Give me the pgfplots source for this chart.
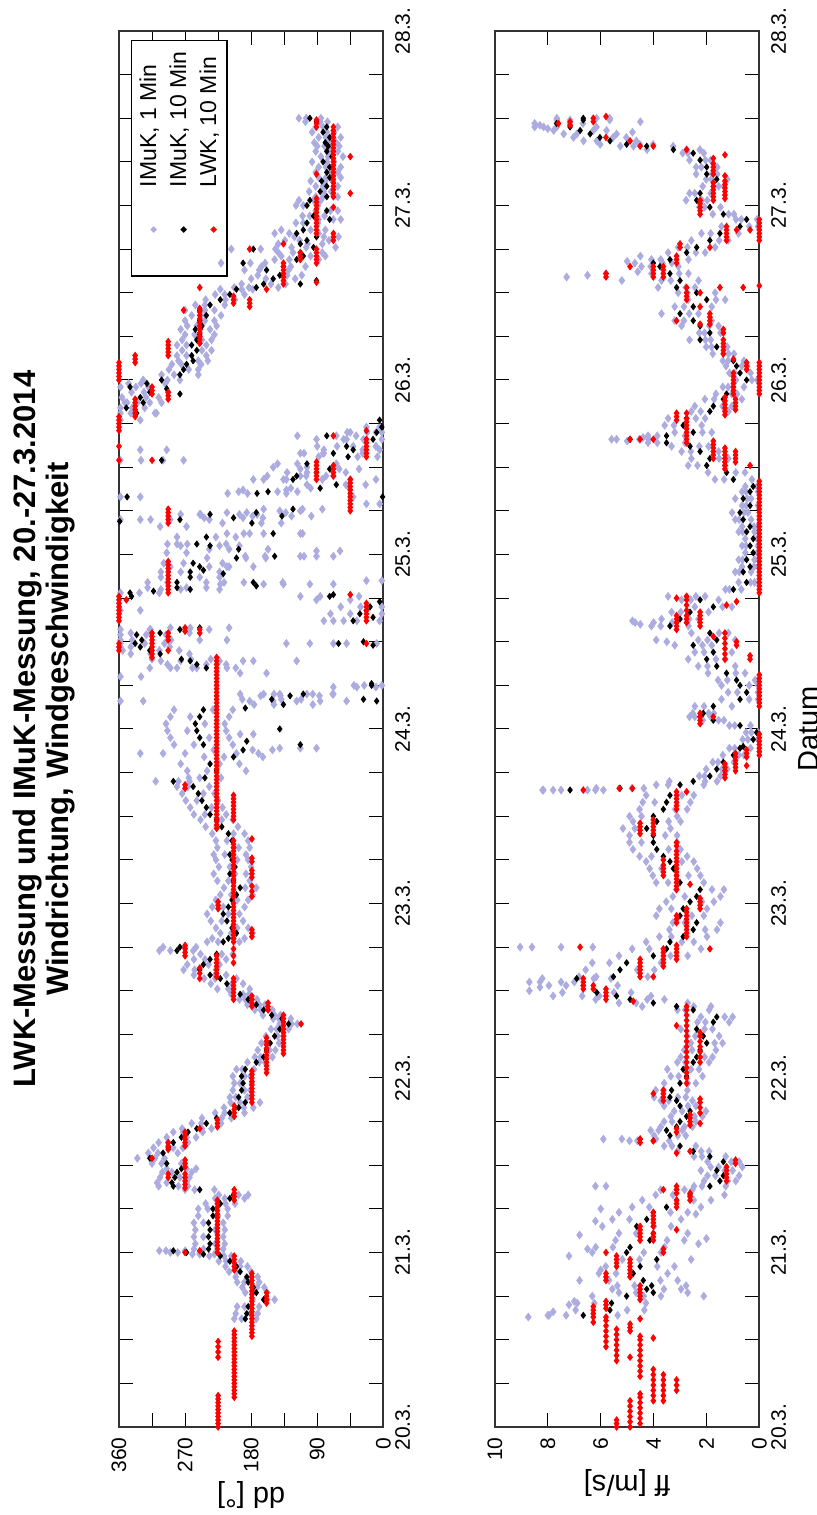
\documentclass[border=0pt]{standalone}
\usepackage{fontspec}
\setmainfont{Liberation Sans}
\newfontfamily\dejavu{DejaVu Sans}
\usepackage{pgfplots}
\usepackage{pgfplotstable}
\pgfplotsset{compat=1.18}
\definecolor{lav}{RGB}{172,172,224}

\pgfplotstableread[row sep=\\]{t v\\
20.62 188\\ 20.65 186\\ 20.69 184\\ 20.73 163\\ 20.77 173\\ 20.80 177\\ 20.83 184\\ 20.86 186\\ 20.89 195\\ 20.92 200\\ 20.95 209\\ 20.98 222\\ 20.99 245\\ 21.00 268\\ 21.01 286\\ 21.02 238\\ 21.05 236\\ 21.09 238\\ 21.13 236\\ 21.17 238\\ 21.21 232\\ 21.25 232\\ 21.28 222\\ 21.31 209\\ 21.33 204\\ 21.36 250\\ 21.38 286\\ 21.40 288\\ 21.43 284\\ 21.46 281\\ 21.48 275\\ 21.51 295\\ 21.54 318\\ 21.57 300\\ 21.60 293\\ 21.63 286\\ 21.66 275\\ 21.69 266\\ 21.71 254\\ 21.74 241\\ 21.77 227\\ 21.80 209\\ 21.83 197\\ 21.86 188\\
21.89 197\\ 21.93 193\\ 21.97 191\\ 22.01 193\\ 22.05 188\\ 22.09 173\\ 22.12 163\\ 22.16 159\\ 22.20 154\\ 22.24 148\\ 22.28 141\\ 22.31 129\\ 22.34 138\\ 22.36 152\\ 22.39 163\\ 22.42 173\\ 22.45 184\\ 22.48 195\\ 22.51 204\\ 22.54 213\\ 22.57 222\\ 22.59 236\\ 22.62 250\\ 22.65 245\\ 22.68 236\\ 22.71 227\\ 22.73 281\\ 22.75 277\\ 22.78 218\\ 22.80 211\\ 22.83 200\\ 22.86 206\\ 22.90 213\\ 22.94 218\\ 22.98 211\\ 23.02 206\\ 23.05 200\\ 23.09 195\\ 23.13 204\\ 23.17 209\\ 23.21 202\\ 23.25 206\\ 23.28 209\\ 23.32 204\\ 23.36 206\\ 23.40 211\\ 23.44 220\\ 23.48 227\\ 23.51 236\\ 23.55 241\\ 23.59 247\\ 23.63 252\\ 23.67 259\\ 23.70 286\\ 23.72 243\\ 23.76 227\\ 23.80 236\\ 23.84 204\\ 23.88 191\\ 23.91 245\\ 23.95 250\\ 23.99 254\\ 24.03 256\\ 24.07 250\\ 24.11 245\\ 24.00 141\\ 23.91 113\\ 23.93 186\\ 24.12 188\\ 24.14 136\\ 24.17 152\\ 24.19 127\\ 24.20 109\\ 24.25 16\\ 24.26 16\\ 24.17 27\\ 24.16 9\\
24.35 241\\ 24.37 254\\ 24.39 263\\ 24.40 275\\ 24.43 304\\ 24.45 318\\ 24.47 331\\ 24.49 338\\ 24.51 329\\ 24.54 336\\ 24.55 304\\ 24.57 277\\ 24.58 250\\ 24.49 61\\ 24.50 27\\ 24.48 14\\ 24.62 41\\ 24.64 14\\ 24.66 32\\ 24.68 23\\ 24.70 18\\ 24.73 5\\ 24.76 73\\ 24.77 68\\ 24.76 343\\ 24.78 345\\ 24.79 313\\ 24.80 263\\ 24.81 281\\ 24.84 281\\ 24.87 263\\ 24.90 263\\ 24.93 250\\ 24.95 259\\ 24.91 245\\ 24.89 218\\ 24.84 177\\ 24.82 173\\ 24.99 148\\ 24.98 200\\ 25.03 197\\ 25.05 236\\ 25.06 254\\ 25.10 241\\ 25.12 150\\ 25.18 179\\ 25.20 277\\ 25.19 359\\ 25.21 204\\ 25.23 236\\ 25.22 138\\ 25.24 173\\ 25.26 123\\ 25.33 349\\ 25.35 172\\ 25.36 157\\ 25.33 1\\ 25.38 86\\ 25.40 64\\ 25.43 123\\ 25.45 118\\ 25.47 91\\ 25.49 73\\ 25.52 104\\ 25.54 302\\ 25.56 48\\ 25.58 68\\ 25.60 41\\ 25.62 50\\ 25.66 14\\ 25.68 77\\ 25.70 9\\ 25.73 2\\ 25.77 5\\
25.81 336\\ 25.84 350\\ 25.87 327\\ 25.90 331\\ 25.93 318\\ 25.96 345\\ 25.98 322\\ 25.95 295\\ 25.92 277\\ 26.00 302\\ 26.03 277\\ 26.06 272\\ 26.09 268\\ 26.11 259\\ 26.14 261\\ 26.17 254\\ 26.20 261\\ 26.23 254\\ 26.26 250\\ 26.29 256\\ 26.31 247\\ 26.34 250\\ 26.37 241\\ 26.40 250\\ 26.43 236\\ 26.46 222\\ 26.49 209\\ 26.52 200\\ 26.53 173\\ 26.55 163\\ 26.58 150\\ 26.60 141\\ 26.63 159\\ 26.65 136\\ 26.67 191\\ 26.69 118\\ 26.71 109\\ 26.73 113\\ 26.75 177\\ 26.76 95\\ 26.78 113\\ 26.80 104\\ 26.82 91\\ 26.84 118\\ 26.86 109\\ 26.90 104\\ 26.92 73\\ 26.94 95\\ 26.97 77\\ 27.00 104\\ 27.03 100\\ 27.05 77\\ 27.08 86\\ 27.11 77\\ 27.14 84\\ 27.16 73\\ 27.19 77\\ 27.22 73\\ 27.25 82\\ 27.28 70\\ 27.31 77\\ 27.34 75\\ 27.36 79\\ 27.39 73\\ 27.42 82\\ 27.45 77\\ 27.48 91\\ 27.50 100\\ 26.55 113\\ 26.57 91\\
}\ddblack

\pgfplotstableread[row sep=\\]{t a b c\\
20.62 203 173 193\\ 20.65 201 171 181\\ 20.69 199 169 189\\ 20.73 178 148 158\\ 20.77 188 158 178\\ 20.80 192 162 172\\ 20.83 199 169 189\\ 20.86 201 171 181\\ 20.89 210 180 200\\ 20.92 215 185 195\\ 20.95 224 194 214\\ 20.98 237 207 217\\ 20.99 260 230 250\\ 21.00 290 250 280\\ 21.01 305 270 296\\
21.02 258 218 245\\ 21.05 256 216 229\\ 21.09 258 218 245\\ 21.13 256 216 229\\ 21.17 258 218 245\\ 21.21 252 212 225\\ 21.25 252 212 239\\ 21.28 242 202 215\\ 21.31 229 189 216\\ 21.33 224 184 197\\ 21.36 270 230 257\\ 21.38 306 266 279\\ 21.40 308 268 295\\ 21.43 304 264 277\\ 21.46 301 261 288\\ 21.48 295 255 268\\ 21.51 315 275 302\\ 21.54 335 298 311\\ 21.57 320 280 307\\ 21.60 313 273 286\\ 21.63 306 266 293\\ 21.66 295 255 268\\ 21.69 286 246 273\\ 21.71 274 234 247\\ 21.74 261 221 248\\ 21.77 247 207 220\\ 21.80 229 189 216\\ 21.83 217 177 190\\ 21.86 208 168 195\\
21.89 209 185 201\\ 21.93 205 181 189\\ 21.97 203 179 195\\ 22.01 205 181 189\\ 22.05 200 176 192\\ 22.09 185 161 169\\ 22.12 175 151 167\\ 22.16 171 147 155\\ 22.20 166 142 158\\ 22.24 160 136 144\\ 22.28 153 129 145\\ 22.31 141 117 125\\ 22.34 150 126 142\\ 22.36 164 140 148\\ 22.39 175 151 167\\ 22.42 185 161 169\\ 22.45 196 172 188\\ 22.48 207 183 191\\
22.51 226 182 211\\ 22.54 235 191 206\\ 22.57 244 200 229\\ 22.59 258 214 229\\ 22.62 272 228 257\\ 22.65 267 223 238\\ 22.68 258 214 243\\ 22.71 249 205 220\\ 22.73 305 259 290\\ 22.75 300 255 270\\ 22.78 240 196 225\\ 22.80 233 189 204\\ 22.83 222 178 207\\ 22.86 228 184 199\\ 22.90 235 191 220\\ 22.94 240 196 211\\ 22.98 233 189 218\\ 23.02 228 184 199\\ 23.05 222 178 207\\ 23.09 217 173 188\\ 23.13 226 182 211\\ 23.17 231 187 202\\ 23.21 224 180 209\\ 23.25 228 184 199\\ 23.28 231 187 216\\ 23.32 226 182 197\\ 23.36 228 184 213\\ 23.40 233 189 204\\ 23.44 242 198 227\\ 23.48 249 205 220\\ 23.51 258 214 243\\ 23.55 263 219 234\\ 23.59 269 225 254\\ 23.63 274 230 245\\ 23.67 281 237 266\\ 23.70 310 264 279\\ 23.72 265 221 250\\
23.76 267 187 240\\ 23.80 276 196 223\\ 23.84 244 164 217\\ 23.88 231 151 178\\ 23.91 285 205 258\\ 23.95 290 210 237\\ 23.99 294 214 267\\ 24.03 296 216 243\\ 24.07 290 210 263\\ 24.11 285 205 232\\ 24.14 176 96 149\\ 24.17 192 112 139\\ 24.19 167 87 140\\ 24.20 149 69 96\\ 24.25 40 2 26\\ 24.35 281 201 254\\ 24.37 294 214 241\\ 24.39 303 223 276\\ 24.40 315 235 262\\ 24.43 344 264 317\\ 24.45 355 278 305\\ 24.47 358 291 344\\ 24.49 358 298 325\\ 24.51 358 289 342\\ 24.54 358 296 323\\ 24.55 344 264 317\\ 24.57 317 237 264\\ 24.58 290 210 263\\ 24.62 81 5 54\\ 24.66 72 2 45\\ 24.70 58 2 31\\ 24.76 113 33 86\\ 24.78 358 305 332\\ 24.80 303 223 276\\ 24.81 321 241 268\\ 24.84 321 241 294\\ 24.87 303 223 250\\ 24.90 303 223 276\\ 24.93 290 210 237\\ 24.95 299 219 272\\ 24.84 217 137 190\\ 24.99 188 108 161\\ 24.98 240 160 187\\ 25.03 237 157 210\\ 25.05 276 196 223\\ 25.06 294 214 267\\ 25.10 281 201 228\\ 25.12 190 110 163\\ 25.18 219 139 166\\ 25.20 317 237 290\\ 25.21 244 164 191\\ 25.23 276 196 249\\ 25.22 178 98 125\\ 25.24 213 133 186\\ 25.26 163 83 110\\ 25.35 212 132 185\\ 25.36 197 117 144\\ 25.38 126 46 99\\ 25.40 104 24 51\\ 25.43 163 83 136\\ 25.45 158 78 105\\ 25.47 131 51 104\\ 25.49 113 33 60\\ 25.52 144 64 117\\ 25.56 88 8 35\\ 25.58 108 28 81\\ 25.60 81 5 28\\ 25.62 90 10 63\\ 25.66 54 2 27\\ 25.68 117 37 64\\ 25.70 49 2 22\\
25.81 358 311 344\\ 25.84 358 325 342\\ 25.87 352 302 335\\ 25.90 356 306 323\\ 25.93 343 293 326\\ 25.96 358 320 337\\ 25.98 347 297 330\\ 26.00 327 277 294\\ 26.03 302 252 285\\
26.06 292 252 265\\ 26.09 288 248 275\\ 26.11 279 239 252\\ 26.14 281 241 268\\ 26.17 274 234 247\\ 26.20 281 241 268\\ 26.23 274 234 247\\ 26.26 270 230 257\\ 26.29 276 236 249\\ 26.31 267 227 254\\ 26.34 270 230 243\\ 26.37 261 221 248\\ 26.40 270 230 243\\ 26.43 256 216 243\\ 26.46 242 202 215\\ 26.49 229 189 216\\ 26.52 222 178 193\\
26.53 203 143 183\\ 26.55 193 133 153\\ 26.58 180 120 160\\ 26.60 171 111 131\\ 26.63 189 129 169\\ 26.65 166 106 126\\ 26.67 221 161 181\\ 26.69 148 88 128\\ 26.71 139 79 99\\ 26.73 143 83 123\\ 26.75 207 147 167\\ 26.76 125 65 105\\ 26.78 143 83 103\\ 26.80 134 74 114\\ 26.82 121 61 81\\ 26.84 148 88 128\\ 26.86 139 79 99\\
26.90 119 89 109\\ 26.92 88 58 68\\ 26.94 110 80 100\\ 26.97 92 62 72\\ 27.00 119 89 109\\ 27.03 115 85 95\\ 27.05 92 62 82\\ 27.08 101 71 81\\ 27.11 92 62 82\\ 27.14 99 69 79\\ 27.16 88 58 78\\ 27.19 92 62 72\\ 27.22 88 58 78\\ 27.25 97 67 77\\ 27.28 85 55 75\\ 27.31 92 62 72\\ 27.34 90 60 80\\ 27.36 94 64 74\\ 27.39 88 58 78\\ 27.42 97 67 77\\ 27.45 92 62 82\\ 27.48 106 76 86\\ 27.50 115 85 105\\
}\ddlight

\pgfplotstableread[row sep=\\]{t v\\
23.86 331\\ 23.86 300\\ 23.86 270\\ 23.86 200\\ 23.86 170\\ 23.89 141\\ 23.89 113\\ 23.89 91\\ 23.97 195\\ 23.97 177\\ 24.16 358\\ 24.16 327\\ 24.16 182\\ 24.16 150\\ 24.16 118\\ 24.16 86\\ 24.16 50\\ 24.20 195\\ 24.20 163\\ 24.20 141\\ 24.20 104\\ 24.20 68\\ 24.24 68\\ 24.24 36\\ 24.24 10\\ 24.30 358\\ 24.30 330\\ 24.32 195\\ 24.32 159\\ 24.35 318\\ 24.35 290\\ 24.35 260\\ 24.35 213\\ 24.39 191\\ 24.39 177\\ 24.39 118\\ 24.49 132\\ 24.49 100\\ 24.49 68\\ 24.49 50\\ 24.49 9\\ 24.51 250\\ 24.51 213\\ 24.57 358\\ 24.57 318\\ 24.62 68\\ 24.62 36\\ 24.68 358\\ 24.68 331\\ 24.74 91\\ 24.74 45\\ 24.83 222\\ 24.83 163\\ 24.83 136\\ 24.83 100\\ 24.83 68\\ 24.85 23\\ 24.85 2\\ 24.93 213\\ 24.93 177\\ 24.99 113\\ 24.99 91\\ 24.99 68\\ 25.01 295\\ 25.01 268\\ 25.02 91\\ 25.02 59\\ 25.06 281\\ 25.12 213\\ 25.12 182\\ 25.12 113\\ 25.16 304\\ 25.16 268\\ 25.20 358\\ 25.20 331\\ 25.23 250\\ 25.23 172\\ 25.25 141\\ 25.25 113\\ 25.29 23\\ 25.29 5\\ 25.33 358\\ 25.33 331\\ 25.33 41\\ 25.37 191\\ 25.37 132\\ 25.43 177\\ 25.43 132\\ 25.43 45\\ 25.43 10\\ 25.45 113\\ 25.45 68\\ 25.50 150\\ 25.50 104\\ 25.54 358\\ 25.54 330\\ 25.54 300\\ 25.54 272\\ 25.58 113\\ 25.58 82\\ 25.60 331\\ 25.60 295\\ 25.62 41\\ 25.62 10\\ 25.66 91\\ 25.66 50\\ 25.70 45\\ 25.70 10\\ 25.73 23\\ 25.73 5\\ 25.77 358\\ 25.77 331\\ 25.81 340\\ 25.81 309\\ 25.87 349\\ 25.87 318\\
}\ddlightx

\pgfplotstableread[row sep=\\]{t v\\
20.00 225\\ 20.02 225\\ 20.04 225\\ 20.06 225\\ 20.08 225\\ 20.10 225\\ 20.12 225\\ 20.14 225\\ 20.16 225\\ 20.18 225\\
20.17 203\\ 20.19 203\\ 20.21 203\\ 20.23 203\\ 20.25 203\\ 20.27 203\\ 20.29 203\\ 20.31 203\\ 20.33 203\\ 20.35 203\\ 20.37 203\\ 20.39 203\\ 20.41 203\\ 20.43 203\\ 20.45 203\\ 20.47 203\\ 20.49 203\\ 20.51 203\\ 20.53 203\\ 20.55 203\\
20.40 225\\ 20.43 225\\ 20.46 225\\ 20.49 225\\
20.52 179\\ 20.54 179\\ 20.56 179\\ 20.58 179\\ 20.60 179\\ 20.62 179\\ 20.64 179\\ 20.66 179\\ 20.68 179\\ 20.70 179\\ 20.72 179\\ 20.74 179\\ 20.76 179\\ 20.78 179\\ 20.80 179\\ 20.82 179\\ 20.84 179\\ 20.86 179\\ 20.88 179\\
20.71 159\\ 20.73 159\\ 20.75 159\\ 20.77 159\\
20.90 203\\ 20.92 203\\ 20.94 203\\ 20.96 203\\ 20.98 203\\
21.00 226\\ 21.02 226\\ 21.04 226\\ 21.06 226\\ 21.08 226\\ 21.10 226\\ 21.12 226\\ 21.14 226\\ 21.16 226\\ 21.18 226\\ 21.20 226\\ 21.22 226\\ 21.24 226\\ 21.26 226\\ 21.28 226\\ 21.30 226\\
21.01 250\\ 21.00 270\\
21.30 203\\ 21.32 203\\ 21.34 203\\ 21.36 203\\
21.37 270\\ 21.39 270\\ 21.41 270\\ 21.43 270\\ 21.45 270\\ 21.43 293\\ 21.45 293\\
21.49 270\\ 21.51 270\\ 21.53 270\\ 21.54 315\\ 21.59 293\\ 21.61 293\\ 21.63 293\\
21.61 270\\ 21.63 270\\ 21.65 270\\ 21.67 270\\ 21.69 270\\ 21.71 250\\
21.72 226\\ 21.74 226\\ 21.76 226\\ 21.78 203\\ 21.80 203\\ 21.82 203\\ 21.84 203\\
21.86 179\\ 21.88 179\\ 21.90 179\\ 21.92 179\\ 21.94 179\\ 21.96 179\\ 21.98 179\\ 22.00 179\\ 22.02 179\\ 22.04 179\\
22.03 159\\ 22.05 159\\ 22.07 159\\ 22.09 159\\ 22.11 159\\ 22.13 159\\ 22.15 159\\ 22.17 159\\ 22.19 159\\ 22.21 159\\ 22.23 159\\
22.14 136\\ 22.16 136\\ 22.18 136\\ 22.20 136\\ 22.22 136\\ 22.24 136\\ 22.26 136\\ 22.28 136\\ 22.30 136\\ 22.32 136\\ 22.34 136\\ 22.36 136\\
22.31 112\\ 22.39 157\\ 22.41 157\\ 22.43 157\\ 22.41 179\\ 22.43 179\\ 22.45 179\\ 22.47 179\\
22.45 204\\ 22.47 204\\ 22.49 204\\ 22.51 204\\ 22.53 204\\ 22.55 204\\ 22.57 204\\
22.58 227\\ 22.60 227\\ 22.62 227\\ 22.64 227\\ 22.66 227\\ 22.68 227\\ 22.70 227\\
22.57 250\\ 22.60 250\\ 22.63 250\\ 22.70 270\\ 22.72 270\\ 22.74 270\\ 22.76 270\\ 22.66 204\\ 22.70 204\\ 22.74 204\\
22.78 204\\ 22.80 204\\ 22.82 204\\ 22.84 204\\ 22.86 204\\ 22.88 204\\ 22.90 204\\ 22.92 204\\ 22.94 204\\ 22.96 204\\ 22.98 204\\ 23.00 204\\
22.81 179\\ 22.83 179\\ 22.85 179\\ 22.97 225\\ 22.99 225\\ 23.01 225\\
23.04 204\\ 23.06 204\\ 23.08 204\\ 23.10 204\\ 23.12 204\\ 23.14 204\\ 23.16 204\\ 23.18 204\\ 23.20 204\\ 23.22 204\\ 23.24 204\\ 23.26 204\\ 23.28 204\\ 23.30 204\\ 23.32 204\\ 23.34 204\\ 23.36 204\\
23.37 179\\ 23.24 179\\ 23.26 179\\ 23.15 179\\ 23.17 179\\ 23.19 179\\ 23.04 179\\ 23.07 179\\ 23.10 179\\
23.43 227\\ 23.45 227\\ 23.47 227\\ 23.49 227\\ 23.51 227\\ 23.53 227\\ 23.55 227\\ 23.57 227\\ 23.59 227\\ 23.61 227\\ 23.63 227\\ 23.65 227\\ 23.67 227\\ 23.69 227\\ 23.71 227\\ 23.73 227\\ 23.75 227\\ 23.77 227\\ 23.79 227\\ 23.81 227\\ 23.83 227\\ 23.85 227\\ 23.87 227\\ 23.89 227\\ 23.91 227\\ 23.93 227\\ 23.95 227\\ 23.97 227\\ 23.99 227\\ 24.01 227\\ 24.03 227\\ 24.05 227\\ 24.07 227\\ 24.09 227\\ 24.11 227\\ 24.13 227\\ 24.15 227\\ 24.17 227\\ 24.19 227\\ 24.21 227\\ 24.23 227\\ 24.25 227\\ 24.27 227\\ 24.29 227\\ 24.31 227\\ 24.33 227\\ 24.35 227\\ 24.37 227\\ 24.39 227\\ 24.41 227\\
23.66 270\\ 23.68 270\\ 23.48 204\\ 23.50 204\\ 23.52 204\\ 23.54 204\\ 23.56 204\\ 23.58 204\\ 23.60 204\\ 23.62 204\\
24.41 315\\ 24.43 315\\ 24.45 315\\ 24.47 315\\ 24.49 315\\ 24.51 315\\ 24.53 315\\ 24.55 315\\
24.45 293\\ 24.51 293\\ 24.53 293\\ 24.55 293\\ 24.56 270\\ 24.58 270\\ 24.55 250\\ 24.57 250\\
24.45 360\\ 24.47 360\\ 24.49 360\\ 24.62 360\\ 24.64 360\\ 24.66 360\\ 24.68 360\\ 24.70 360\\ 24.72 360\\ 24.74 360\\ 24.76 360\\ 24.74 350\\
24.62 23\\ 24.64 23\\ 24.66 23\\ 24.68 23\\ 24.70 23\\ 24.72 23\\ 24.77 45\\ 24.49 23\\
24.78 293\\ 24.80 293\\ 24.82 293\\ 24.84 293\\ 24.86 293\\ 24.88 293\\ 24.90 293\\ 24.92 293\\ 24.94 293\\ 24.96 293\\
25.18 293\\ 25.20 293\\ 25.22 293\\ 25.24 293\\ 25.26 293\\
25.43 91\\ 25.45 91\\ 25.47 91\\ 25.49 91\\ 25.51 91\\ 25.53 91\\ 25.45 68\\ 25.47 68\\ 25.49 68\\ 25.51 68\\
25.25 45\\ 25.27 45\\ 25.29 45\\ 25.31 45\\ 25.33 45\\ 25.35 45\\ 25.37 45\\ 25.39 45\\ 25.41 45\\ 25.43 45\\
25.56 23\\ 25.58 23\\ 25.60 23\\ 25.62 23\\ 25.64 23\\ 25.66 23\\ 25.71 23\\
25.71 360\\ 25.73 360\\ 25.75 360\\ 25.77 360\\ 25.79 360\\ 25.62 360\\ 25.54 360\\
25.79 338\\ 25.81 338\\ 25.83 338\\ 25.85 338\\ 25.87 338\\ 25.89 338\\ 25.54 315\\ 25.68 68\\
26.00 360\\ 26.02 360\\ 26.04 360\\ 26.06 360\\ 26.08 360\\ 26.10 360\\ 26.10 338\\ 26.12 338\\ 26.14 338\\
25.92 315\\ 25.94 315\\ 25.96 315\\ 25.89 293\\ 25.91 293\\ 25.93 293\\
26.14 293\\ 26.16 293\\ 26.18 293\\ 26.20 293\\ 26.22 293\\
26.21 250\\ 26.23 250\\ 26.25 250\\ 26.27 250\\ 26.29 250\\ 26.31 250\\ 26.33 250\\ 26.35 250\\ 26.37 250\\ 26.39 250\\ 26.41 250\\
26.40 272\\ 26.53 250\\ 26.44 204\\ 26.46 204\\ 26.48 204\\ 26.42 182\\ 26.44 182\\ 26.46 182\\ 26.52 159\\
26.55 136\\ 26.57 136\\ 26.59 136\\ 26.61 136\\ 26.63 136\\ 26.65 136\\ 26.67 136\\
26.75 182\\ 26.78 136\\ 26.69 113\\ 26.71 113\\ 26.73 113\\ 26.56 91\\
26.67 91\\ 26.69 91\\ 26.71 91\\ 26.73 91\\ 26.75 91\\
26.84 91\\ 26.86 91\\ 26.88 91\\ 26.90 91\\ 26.92 91\\ 26.94 91\\ 26.96 91\\ 26.98 91\\ 27.00 91\\ 27.02 91\\ 27.04 91\\
26.80 68\\ 26.82 68\\ 26.84 68\\ 26.99 68\\ 27.18 91\\
27.05 68\\ 27.07 68\\ 27.09 68\\ 27.11 68\\ 27.13 68\\ 27.15 68\\ 27.17 68\\ 27.19 68\\ 27.21 68\\ 27.23 68\\ 27.25 68\\ 27.27 68\\ 27.29 68\\ 27.31 68\\ 27.33 68\\ 27.35 68\\ 27.37 68\\ 27.39 68\\ 27.41 68\\ 27.43 68\\ 27.45 68\\
27.28 45\\ 27.07 45\\ 27.45 91\\ 27.47 91\\ 27.49 91\\
}\ddred

\pgfplotstableread[row sep=\\]{t v\\
20.64 6.66\\ 20.67 5.65\\ 20.71 5.59\\ 20.75 5.02\\ 20.77 4.01\\ 20.79 4.26\\ 20.81 4.07\\ 20.84 4.39\\ 20.88 4.77\\ 20.92 4.51\\ 20.96 3.88\\ 21.00 5.02\\ 21.03 4.89\\ 21.07 4.14\\ 21.11 4.01\\ 21.15 4.64\\ 21.19 4.26\\ 21.23 4.01\\ 21.26 3.51\\ 21.30 3.13\\ 21.33 2.62\\ 21.36 3.13\\ 21.38 1.87\\ 21.41 1.49\\ 21.44 1.36\\ 21.47 1.61\\ 21.49 1.24\\ 21.52 1.36\\ 21.55 1.87\\ 21.58 2.50\\ 21.61 3.00\\ 21.64 4.01\\ 21.65 4.51\\ 21.67 3.38\\ 21.70 3.51\\ 21.72 3.13\\ 21.75 3.00\\ 21.78 2.75\\ 21.81 2.62\\ 21.84 3.00\\ 21.87 3.13\\
21.89 3.38\\ 21.93 3.32\\ 21.97 3.00\\ 22.01 2.75\\ 22.05 2.88\\ 22.09 2.50\\ 22.12 2.37\\ 22.16 2.24\\ 22.20 1.99\\ 22.24 2.12\\ 22.28 2.37\\ 22.32 1.74\\ 22.35 1.61\\ 22.39 2.50\\ 22.41 3.13\\ 22.43 4.01\\ 22.45 4.89\\ 22.47 5.40\\ 22.49 6.15\\ 22.53 6.66\\ 22.57 6.91\\ 22.58 5.52\\ 22.62 5.27\\ 22.66 5.02\\ 22.70 4.01\\ 22.74 3.51\\ 22.78 3.38\\ 22.81 2.88\\ 22.85 2.50\\ 22.89 2.37\\ 22.93 3.00\\ 22.97 2.88\\ 23.01 2.62\\ 23.04 2.37\\ 23.08 2.24\\ 23.12 3.00\\ 23.16 3.13\\ 23.20 3.25\\ 23.24 3.38\\ 23.27 3.63\\ 23.31 3.88\\ 23.35 4.01\\ 23.39 4.01\\ 23.43 4.26\\ 23.47 3.88\\ 23.50 4.01\\ 23.54 3.63\\ 23.58 3.51\\ 23.62 3.38\\ 23.65 7.16\\ 23.66 5.27\\ 23.68 3.00\\ 23.70 2.50\\ 23.73 1.87\\ 23.77 1.61\\ 23.81 1.36\\ 23.85 0.98\\ 23.89 0.73\\
23.90 0.61\\ 23.94 0.23\\ 23.98 0.10\\ 24.02 0.73\\ 24.05 1.74\\ 24.07 2.24\\ 24.09 2.12\\ 24.13 1.74\\ 24.17 0.73\\ 24.21 0.48\\ 24.25 0.73\\ 24.28 0.86\\ 24.32 1.24\\ 24.36 1.61\\ 24.40 1.99\\ 24.44 1.74\\ 24.48 2.50\\ 24.51 1.61\\ 24.55 1.87\\ 24.59 3.38\\ 24.63 3.00\\ 24.67 2.62\\ 24.70 1.74\\ 24.74 2.24\\ 24.76 2.75\\ 24.80 0.98\\ 24.84 0.48\\ 24.90 0.61\\ 24.93 0.35\\ 24.97 0.48\\ 25.01 0.23\\ 25.05 0.35\\ 25.09 0.23\\ 25.13 0.48\\ 25.16 0.35\\ 25.20 0.61\\ 25.24 0.73\\ 25.28 0.35\\ 25.32 0.61\\ 25.36 0.35\\ 25.39 0.23\\ 25.43 0.98\\ 25.47 1.24\\ 25.51 1.99\\ 25.55 1.87\\ 25.59 2.24\\ 25.62 2.62\\ 25.64 3.51\\ 25.66 4.89\\ 25.68 3.51\\ 25.70 2.50\\ 25.74 2.88\\ 25.78 2.75\\ 25.82 1.87\\ 25.85 1.74\\
25.89 1.36\\ 25.92 1.24\\ 25.96 0.98\\ 26.00 0.48\\ 26.04 0.73\\ 26.08 0.86\\ 26.11 0.98\\ 26.15 1.36\\ 26.19 1.61\\ 26.23 2.24\\ 26.27 1.87\\ 26.31 2.24\\ 26.34 2.50\\ 26.38 3.00\\ 26.42 2.50\\ 26.46 1.99\\ 26.50 2.37\\ 26.53 3.13\\ 26.57 3.00\\ 26.61 3.38\\ 26.65 3.76\\ 26.67 4.01\\ 26.69 3.38\\ 26.73 2.75\\ 26.76 2.37\\ 26.80 1.87\\ 26.84 1.49\\ 26.88 0.73\\ 26.92 0.48\\ 26.95 1.36\\ 26.99 1.87\\ 27.03 2.37\\ 27.07 2.24\\ 27.11 1.74\\ 27.15 1.61\\ 27.18 1.99\\ 27.22 1.99\\ 27.26 2.24\\ 27.30 2.50\\ 27.32 3.25\\ 27.34 4.26\\ 27.35 5.02\\ 27.37 5.65\\ 27.39 6.03\\ 27.41 6.40\\ 27.43 6.78\\ 27.45 7.16\\ 27.47 7.67\\ 27.49 6.66\\ 27.50 6.66\\
}\ffblack

\pgfplotstableread[row sep=\\]{t a b c\\
20.64 7.96 5.36 7.31\\ 20.67 6.95 4.35 5.00\\ 20.71 6.89 4.29 6.24\\ 20.75 6.32 3.72 4.37\\ 20.77 5.31 2.71 4.66\\ 20.79 5.56 2.96 3.61\\ 20.81 5.37 2.77 4.72\\ 20.84 5.69 3.09 3.74\\ 20.88 6.07 3.47 5.42\\ 20.92 5.81 3.21 3.86\\ 20.96 5.18 2.58 4.53\\ 21.00 6.32 3.72 4.37\\ 21.03 6.19 3.59 5.54\\ 21.07 5.44 2.84 3.49\\ 21.11 5.31 2.71 4.66\\ 21.15 5.94 3.34 3.99\\ 21.19 5.56 2.96 4.91\\ 21.23 5.31 2.71 3.36\\ 21.26 4.81 2.21 4.16\\ 21.30 4.43 1.83 2.48\\ 21.33 3.92 1.32 3.27\\
21.36 3.73 2.53 2.83\\ 21.38 2.47 1.27 2.17\\ 21.41 2.09 0.89 1.19\\ 21.44 1.96 0.76 1.66\\ 21.47 2.21 1.01 1.31\\ 21.49 1.84 0.64 1.54\\ 21.52 1.96 0.76 1.06\\ 21.55 2.47 1.27 2.17\\ 21.58 3.10 1.90 2.20\\ 21.61 3.60 2.40 3.30\\ 21.64 4.91 3.41 4.61\\ 21.65 5.90 3.91 5.20\\ 21.67 3.98 2.78 3.08\\ 21.70 4.11 2.91 3.81\\ 21.72 3.73 2.53 2.83\\ 21.75 3.60 2.40 3.30\\ 21.78 3.35 2.15 2.45\\ 21.81 3.22 2.02 2.92\\ 21.84 3.60 2.40 2.70\\ 21.87 3.73 2.53 3.43\\ 21.89 3.98 2.78 3.08\\ 21.93 3.92 2.72 3.62\\ 21.97 3.60 2.40 2.70\\ 22.01 3.35 2.15 3.05\\ 22.05 3.48 2.28 2.58\\ 22.09 3.10 1.90 2.80\\ 22.12 2.97 1.77 2.07\\ 22.16 2.84 1.64 2.54\\ 22.20 2.59 1.39 1.69\\ 22.24 2.72 1.52 2.42\\ 22.28 2.97 1.77 2.07\\ 22.32 2.34 1.14 2.04\\ 22.35 2.21 1.01 1.31\\ 22.39 3.10 1.90 2.80\\
22.41 4.43 1.83 2.48\\ 22.43 5.31 2.71 4.66\\ 22.45 6.19 3.59 4.24\\ 22.47 6.70 4.10 6.05\\ 22.49 7.45 4.85 5.50\\ 22.53 7.96 5.36 7.31\\ 22.55 8.30 7.00 8.70\\ 22.57 8.21 5.61 6.26\\ 22.58 6.82 4.22 6.17\\ 22.62 6.57 3.97 4.62\\ 22.66 6.32 3.72 5.67\\ 22.70 5.31 2.71 3.36\\ 22.74 4.81 2.21 4.16\\
22.78 4.28 2.48 2.93\\ 22.81 3.78 1.98 3.33\\ 22.85 3.40 1.60 2.05\\ 22.89 3.27 1.47 2.82\\ 22.93 3.90 2.10 2.55\\ 22.97 3.78 1.98 3.33\\ 23.01 3.52 1.72 2.17\\ 23.04 3.27 1.47 2.82\\ 23.08 3.14 1.34 1.79\\ 23.12 3.90 2.10 3.45\\ 23.16 4.03 2.23 2.68\\ 23.20 4.15 2.35 3.70\\ 23.24 4.28 2.48 2.93\\ 23.27 4.53 2.73 4.08\\ 23.31 4.78 2.98 3.43\\ 23.35 4.91 3.11 4.46\\ 23.39 4.91 3.11 3.56\\ 23.43 5.16 3.36 4.71\\ 23.47 4.78 2.98 3.43\\ 23.50 4.91 3.11 4.46\\ 23.54 4.53 2.73 3.18\\ 23.58 4.41 2.61 3.96\\ 23.62 4.28 2.48 2.93\\ 23.65 7.80 6.20 8.17\\ 23.66 6.17 4.37 4.82\\ 23.68 3.90 2.10 3.45\\ 23.70 3.40 1.60 2.05\\
23.73 2.27 1.47 2.07\\ 23.77 2.01 1.21 1.41\\ 23.81 1.76 0.96 1.56\\ 23.85 1.38 0.58 0.78\\ 23.89 1.13 0.33 0.93\\ 23.94 0.63 0.05 0.43\\ 23.98 0.50 0.05 0.30\\ 24.02 1.13 0.33 0.93\\ 24.05 2.14 1.34 1.54\\ 24.07 2.64 1.84 2.44\\ 24.09 2.52 1.72 1.92\\
24.13 2.44 1.04 2.09\\ 24.17 1.43 0.05 0.38\\ 24.21 1.18 0.05 0.83\\ 24.25 1.43 0.05 0.38\\ 24.28 1.56 0.16 1.21\\ 24.32 1.94 0.54 0.89\\ 24.36 2.31 0.91 1.96\\ 24.40 2.69 1.29 1.64\\ 24.44 2.44 1.04 2.09\\ 24.48 3.20 1.80 2.15\\ 24.51 2.31 0.91 1.96\\ 24.55 2.57 1.17 1.52\\ 24.59 4.08 2.68 3.73\\ 24.61 4.70 3.30 4.00\\ 24.63 3.70 2.30 2.65\\ 24.67 3.32 1.92 2.97\\ 24.70 2.44 1.04 1.39\\ 24.74 2.94 1.54 2.59\\ 24.76 3.45 2.05 2.40\\
24.80 1.28 0.68 1.13\\ 24.84 0.78 0.18 0.33\\ 24.90 0.91 0.31 0.76\\ 24.93 0.65 0.05 0.20\\ 24.97 0.78 0.18 0.63\\ 25.01 0.53 0.05 0.08\\ 25.05 0.65 0.05 0.50\\ 25.09 0.53 0.05 0.08\\ 25.13 0.78 0.18 0.63\\ 25.16 0.65 0.05 0.20\\ 25.20 0.91 0.31 0.76\\ 25.24 1.03 0.43 0.58\\ 25.28 0.65 0.05 0.50\\ 25.32 0.91 0.31 0.46\\ 25.36 0.65 0.05 0.50\\ 25.39 0.53 0.05 0.08\\
25.43 1.68 0.28 1.33\\ 25.47 1.94 0.54 0.89\\ 25.51 2.69 1.29 2.34\\ 25.55 2.57 1.17 1.52\\ 25.59 2.94 1.54 2.59\\ 25.62 3.32 1.92 2.27\\ 25.64 4.21 2.81 3.86\\ 25.66 5.59 4.19 4.54\\ 25.68 4.21 2.81 3.86\\ 25.70 3.20 1.80 2.15\\ 25.74 3.58 2.18 3.23\\ 25.78 3.45 2.05 2.40\\ 25.82 2.57 1.17 2.22\\ 25.85 2.44 1.04 1.39\\ 25.89 2.06 0.66 1.71\\
25.92 1.64 0.84 1.04\\ 25.96 1.38 0.58 1.18\\ 26.00 0.88 0.08 0.28\\ 26.04 1.13 0.33 0.93\\ 26.08 1.26 0.46 0.66\\ 26.11 1.38 0.58 1.18\\ 26.15 1.76 0.96 1.16\\ 26.19 2.01 1.21 1.81\\ 26.23 2.64 1.84 2.04\\ 26.27 2.27 1.47 2.07\\
26.31 2.94 1.54 1.89\\ 26.34 3.20 1.80 2.85\\ 26.38 3.70 2.30 2.65\\ 26.42 3.20 1.80 2.85\\ 26.46 2.69 1.29 1.64\\ 26.50 3.07 1.67 2.72\\ 26.53 3.83 2.43 2.78\\ 26.57 3.70 2.30 3.35\\ 26.61 4.08 2.68 3.03\\ 26.65 4.46 3.06 4.11\\ 26.67 4.71 3.31 3.66\\ 26.69 4.08 2.68 3.73\\ 26.73 3.45 2.05 2.40\\ 26.76 3.07 1.67 2.72\\ 26.80 2.57 1.17 1.52\\ 26.84 2.19 0.79 1.84\\ 26.88 1.43 0.05 0.38\\
26.92 0.88 0.08 0.68\\ 26.95 1.76 0.96 1.16\\ 26.99 2.27 1.47 2.07\\ 27.03 2.77 1.97 2.17\\ 27.07 2.64 1.84 2.44\\ 27.11 2.14 1.34 1.54\\ 27.15 2.01 1.21 1.81\\ 27.18 2.39 1.59 1.79\\ 27.22 2.39 1.59 2.19\\ 27.26 2.64 1.84 2.04\\ 27.30 2.90 2.10 2.70\\
27.32 4.25 2.25 2.75\\ 27.34 5.26 3.26 4.76\\ 27.35 6.02 4.02 4.52\\ 27.37 6.65 4.65 6.15\\ 27.39 7.03 5.03 5.53\\ 27.41 7.40 5.40 6.90\\ 27.43 7.78 5.78 6.28\\ 27.45 8.16 6.16 7.66\\ 27.47 8.50 6.67 7.17\\ 27.49 7.66 5.66 7.16\\ 27.50 7.66 5.66 6.16\\
}\fflight

\pgfplotstableread[row sep=\\]{t v\\
20.63 8.74\\ 20.64 8.0\\ 20.66 7.8\\ 20.70 7.2\\ 20.72 7.0\\ 20.84 6.8\\ 20.90 6.0\\ 20.98 7.2\\ 21.02 6.5\\ 21.10 6.8\\ 21.18 6.2\\ 21.25 6.0\\ 21.22 2.4\\ 21.05 2.3\\ 20.75 2.1\\ 21.38 6.2\\ 21.38 5.8\\ 21.08 2.0\\ 22.50 8.7\\ 22.52 8.3\\ 22.47 7.8\\ 22.55 7.5\\ 22.75 9.05\\ 22.75 8.6\\ 22.75 7.5\\ 22.75 6.3\\ 23.65 8.2\\ 23.65 7.5\\ 23.65 6.5\\ 23.65 5.9\\ 24.62 4.8\\ 24.60 4.5\\ 24.51 3.9\\ 24.50 3.5\\ 25.66 5.4\\ 25.65 5.0\\ 25.67 4.4\\ 26.59 7.29\\ 26.60 6.5\\ 26.61 5.8\\ 26.57 5.2\\ 26.62 4.6\\ 26.68 5.0\\ 26.71 4.5\\ 27.45 8.5\\ 27.46 8.3\\ 27.44 8.0\\ 27.48 4.5\\ 27.42 4.8\\
}\fflightx

\pgfplotstableread[row sep=\\]{t v\\
20.00 5.40\\ 20.02 5.40\\ 20.04 5.40\\ 20.00 4.89\\ 20.03 4.89\\ 20.06 4.89\\ 20.09 4.89\\ 20.12 4.89\\ 20.15 4.89\\
20.02 4.51\\ 20.05 4.51\\ 20.08 4.51\\ 20.11 4.51\\ 20.14 4.51\\ 20.17 4.51\\ 20.19 4.51\\
20.15 4.01\\ 20.18 4.01\\ 20.21 4.01\\ 20.24 4.01\\ 20.27 4.01\\ 20.30 4.01\\ 20.33 4.01\\
20.15 3.63\\ 20.18 3.63\\ 20.21 3.63\\ 20.24 3.63\\ 20.27 3.63\\ 20.30 3.63\\ 20.21 3.13\\ 20.24 3.13\\ 20.27 3.13\\
20.29 4.51\\ 20.32 4.51\\ 20.35 4.51\\ 20.38 4.51\\ 20.41 4.51\\ 20.44 4.51\\ 20.47 4.51\\ 20.50 4.51\\ 20.52 4.51\\
20.40 4.89\\ 20.55 4.89\\ 20.57 4.89\\ 20.59 4.89\\
20.38 5.40\\ 20.41 5.40\\ 20.44 5.40\\ 20.47 5.40\\ 20.50 5.40\\ 20.53 5.40\\ 20.56 5.40\\
20.46 5.80\\ 20.49 5.80\\ 20.52 5.80\\ 20.55 5.80\\ 20.58 5.80\\ 20.61 5.80\\ 20.63 5.80\\
20.60 6.28\\ 20.63 6.28\\ 20.65 6.28\\ 20.67 6.28\\ 20.69 6.28\\ 20.51 4.01\\ 20.62 4.51\\
20.68 5.80\\ 20.70 5.80\\ 20.72 5.80\\ 20.73 4.51\\ 20.75 4.51\\ 20.77 4.51\\ 20.79 4.51\\ 20.81 4.51\\
20.92 5.40\\ 20.94 5.40\\ 20.96 5.40\\ 20.98 5.40\\ 21.00 5.80\\
20.86 4.89\\ 20.88 4.89\\ 20.90 4.89\\ 20.92 4.89\\ 20.94 4.89\\ 20.96 4.89\\ 20.84 5.80\\ 20.86 5.80\\ 20.88 5.80\\
21.00 3.63\\ 21.02 3.63\\ 21.07 4.01\\ 21.09 4.01\\ 21.11 4.01\\ 21.07 4.51\\ 21.09 4.51\\ 21.11 4.51\\ 21.13 4.51\\ 21.15 4.51\\ 21.13 3.13\\
21.15 4.01\\ 21.17 4.01\\ 21.19 4.01\\ 21.21 4.01\\ 21.23 4.01\\ 21.26 3.13\\ 21.28 3.13\\ 21.30 3.13\\ 21.30 2.62\\ 21.32 2.62\\ 21.34 2.62\\
21.34 3.13\\ 21.36 3.13\\ 21.38 3.13\\ 21.36 3.63\\ 21.41 1.24\\ 21.43 1.24\\ 21.45 1.24\\ 21.47 1.24\\ 21.49 1.24\\ 21.51 0.90\\ 21.53 0.90\\
21.58 2.62\\ 21.63 4.51\\ 21.65 4.51\\ 21.64 4.01\\ 21.57 3.13\\ 21.69 3.13\\ 21.71 3.13\\
21.73 2.62\\ 21.75 2.62\\ 21.77 2.62\\ 21.79 2.62\\ 21.74 2.24\\ 21.80 2.24\\ 21.83 2.24\\ 21.86 2.24\\ 21.88 2.24\\
21.87 3.63\\ 21.89 3.63\\ 21.91 3.63\\ 21.93 3.63\\ 21.91 4.01\\
21.97 2.75\\ 22.00 2.75\\ 22.03 2.75\\ 22.06 2.75\\ 22.09 2.75\\ 22.12 2.75\\ 22.15 2.75\\ 22.18 2.75\\ 22.21 2.75\\ 22.24 2.75\\ 22.27 2.75\\ 22.30 2.75\\ 22.33 2.75\\ 22.36 2.75\\ 22.39 2.75\\ 22.41 2.75\\
22.09 2.24\\ 22.12 2.24\\ 22.15 2.24\\ 22.18 2.24\\ 22.21 2.24\\ 22.24 2.24\\ 22.26 2.24\\ 22.30 3.13\\ 22.44 4.77\\
22.45 5.80\\ 22.47 5.80\\ 22.49 5.80\\ 22.51 5.80\\ 22.51 6.28\\ 22.53 6.28\\ 22.51 6.66\\ 22.53 6.66\\ 22.55 6.66\\ 22.57 6.66\\
22.58 4.51\\ 22.60 4.51\\ 22.62 4.51\\ 22.64 4.51\\ 22.66 4.51\\ 22.68 4.51\\ 22.58 4.01\\
22.64 3.63\\ 22.66 3.63\\ 22.68 3.63\\ 22.70 3.63\\ 22.72 3.63\\ 22.74 3.63\\ 22.68 3.13\\ 22.70 3.13\\ 22.72 3.13\\ 22.74 3.13\\ 22.76 3.13\\
22.81 2.75\\ 22.83 2.75\\ 22.85 2.75\\ 22.87 2.75\\ 22.89 2.75\\ 22.91 2.75\\ 22.93 2.75\\ 22.95 2.75\\ 22.97 2.75\\ 22.89 3.13\\ 22.91 3.13\\ 22.93 3.13\\
22.97 2.24\\ 22.99 2.24\\ 23.01 2.24\\ 23.03 2.24\\ 22.74 1.87\\ 22.75 6.78\\
23.08 3.13\\ 23.10 3.13\\ 23.12 3.13\\ 23.14 3.13\\ 23.16 3.13\\ 23.18 3.13\\ 23.20 3.13\\ 23.22 3.13\\ 23.24 3.13\\ 23.26 3.13\\ 23.28 3.13\\ 23.30 3.13\\ 23.33 3.13\\
23.16 3.63\\ 23.18 3.63\\ 23.20 3.63\\ 23.22 3.63\\ 23.25 3.63\\ 23.35 3.13\\ 23.11 2.62\\
23.40 4.01\\ 23.42 4.01\\ 23.44 4.01\\ 23.46 4.01\\ 23.48 4.01\\ 23.40 4.51\\ 23.42 4.51\\ 23.44 4.51\\ 23.46 4.51\\
23.54 3.13\\ 23.56 3.13\\ 23.58 3.13\\ 23.60 3.13\\ 23.62 3.13\\ 23.64 3.13\\ 23.64 2.75\\ 23.65 6.66\\ 23.66 4.80\\ 23.66 5.30\\
23.72 1.30\\ 23.74 1.30\\ 23.76 1.30\\ 23.78 1.30\\ 23.80 1.30\\ 23.76 0.90\\ 23.78 0.90\\ 23.80 0.90\\ 23.82 0.90\\ 23.84 0.90\\ 23.86 0.90\\
23.79 0.48\\ 23.84 0.48\\ 23.86 0.48\\ 23.88 0.48\\ 23.85 0\\ 23.87 0\\ 23.89 0\\ 23.91 0\\ 23.93 0\\ 23.95 0\\ 23.97 0\\
24.03 2.24\\ 24.05 2.24\\ 24.07 2.24\\ 24.09 2.24\\ 24.07 1.74\\
24.13 0\\ 24.15 0\\ 24.17 0\\ 24.19 0\\ 24.21 0\\ 24.23 0\\ 24.25 0\\ 24.27 0\\ 24.29 0\\ 24.31 0\\
24.40 0.35\\ 24.42 0.35\\ 24.48 0.86\\ 24.50 0.86\\ 24.40 1.30\\ 24.43 1.30\\ 24.46 1.30\\ 24.49 1.30\\ 24.52 1.30\\ 24.55 1.30\\ 24.53 1.74\\
24.59 2.24\\ 24.61 2.24\\ 24.63 2.24\\ 24.65 2.24\\ 24.67 2.24\\ 24.61 2.75\\ 24.63 2.75\\ 24.65 2.75\\ 24.68 2.75\\ 24.71 2.75\\ 24.74 2.75\\ 24.76 2.75\\
24.57 3.13\\ 24.59 3.13\\ 24.61 3.13\\ 24.63 3.13\\ 24.65 3.13\\ 24.75 3.13\\ 24.71 1.24\\ 24.73 0.86\\
24.78 0\\ 24.80 0\\ 24.82 0\\ 24.84 0\\ 24.86 0\\ 24.88 0\\ 24.90 0\\ 24.92 0\\ 24.94 0\\ 24.96 0\\ 24.98 0\\ 25.00 0\\ 25.02 0\\ 25.04 0\\ 25.06 0\\ 25.08 0\\ 25.10 0\\ 25.12 0\\ 25.14 0\\ 25.16 0\\ 25.18 0\\ 25.20 0\\ 25.22 0\\ 25.24 0\\ 25.26 0\\ 25.28 0\\ 25.30 0\\ 25.32 0\\ 25.34 0\\ 25.36 0\\ 25.38 0\\ 25.40 0\\ 25.42 0\\
25.53 0.90\\ 25.55 0.90\\ 25.57 0.90\\ 25.59 0.90\\ 25.49 1.30\\ 25.51 1.30\\ 25.53 1.30\\ 25.55 1.30\\ 25.57 1.30\\ 25.59 1.30\\ 25.61 1.30\\
25.55 1.74\\ 25.57 1.74\\ 25.59 1.74\\ 25.61 1.74\\ 25.63 1.74\\ 25.65 1.74\\
25.64 2.75\\ 25.66 2.75\\ 25.68 2.75\\ 25.70 2.75\\ 25.72 2.75\\ 25.74 2.75\\ 25.76 2.75\\ 25.78 2.75\\ 25.81 2.75\\ 25.77 3.13\\ 25.79 3.13\\ 25.81 3.13\\
25.66 4.01\\ 25.66 4.89\\ 25.66 4.51\\ 25.83 0.90\\ 25.85 0.90\\ 25.87 0.90\\ 25.89 0.90\\ 25.80 1.30\\ 25.82 1.30\\ 25.84 1.30\\ 25.86 1.30\\ 25.88 1.30\\ 25.90 1.30\\ 25.51 0.35\\
25.92 0\\ 25.94 0\\ 25.96 0\\ 25.98 0\\ 26.00 0\\ 26.02 0\\ 26.04 0\\ 26.06 0\\ 26.08 0\\ 26.10 0\\ 26.06 0.48\\ 26.08 0.48\\ 26.10 0.48\\
26.12 0.98\\ 25.92 0.98\\ 25.94 0.98\\ 25.96 0.98\\ 25.98 0.98\\ 26.00 0.98\\ 26.02 0.98\\ 26.04 0.98\\
26.15 1.36\\ 26.17 1.36\\ 26.19 1.36\\ 26.21 1.36\\ 26.23 1.36\\ 26.27 1.36\\ 26.29 1.36\\ 26.32 1.87\\ 26.34 1.87\\ 26.36 1.87\\ 26.38 1.87\\
26.42 2.24\\ 26.32 2.24\\ 26.34 3.13\\ 26.46 2.75\\ 26.48 2.75\\ 26.50 2.75\\ 26.53 2.75\\ 26.50 2.24\\ 26.53 1.49\\ 26.54 0\\ 26.53 0.61\\
26.59 3.63\\ 26.61 3.63\\ 26.63 3.63\\ 26.65 3.63\\ 26.67 3.13\\ 26.69 3.13\\ 26.71 3.13\\ 26.59 4.01\\ 26.61 4.01\\ 26.63 4.01\\ 26.65 4.01\\
26.59 5.80\\ 26.61 5.80\\ 26.65 4.89\\ 26.76 3.00\\ 26.78 3.00\\ 26.76 1.87\\
26.80 1.24\\ 26.82 1.24\\ 26.84 1.24\\ 26.86 1.24\\ 26.88 1.24\\ 26.80 0\\ 26.82 0\\ 26.84 0\\ 26.86 0\\ 26.88 0\\ 26.90 0\\ 26.92 0\\ 26.86 0.86\\ 26.86 0.35\\
26.95 2.24\\ 26.97 2.24\\ 26.99 2.24\\ 27.01 2.24\\ 27.03 2.24\\ 27.03 1.74\\ 27.05 1.74\\ 27.07 1.74\\ 27.09 1.74\\ 27.11 1.74\\ 27.13 1.74\\
27.04 1.30\\ 27.06 1.30\\ 27.08 1.30\\ 27.10 1.30\\ 27.12 1.30\\ 27.14 1.30\\ 27.17 1.30\\ 27.18 1.74\\ 27.20 1.74\\ 27.22 1.74\\ 27.24 1.74\\ 27.27 1.74\\
27.29 1.30\\ 27.32 2.75\\ 27.34 4.01\\ 27.34 4.51\\ 27.37 4.89\\ 27.39 5.80\\ 27.48 6.28\\ 27.50 6.28\\ 27.46 7.16\\ 27.48 7.16\\ 27.47 7.60\\ 27.51 5.80\\
}\ffred

\pgfplotsset{
  lightpts/.style={only marks, mark=diamond*, mark size=1.9pt, color=lav, mark options={draw=lav, fill=lav}},
  blackpts/.style={only marks, mark=diamond*, mark size=1.5pt, color=black, mark options={draw=black, fill=black}},
  redpts/.style={only marks, mark=diamond*, mark size=1.6pt, color=red, mark options={draw=red, fill=red}},
  panel/.style={
    scale only axis, width=132.15pt, height=698pt,
    ymin=20, ymax=28, ytick={20,...,28},
    yticklabels={20.3.,21.3.,22.3.,23.3.,24.3.,25.3.,26.3.,27.3.,28.3.},
    minor y tick num=3,
    x dir=reverse,
    major tick length=7pt, minor tick length=7pt,
    tick style={black, line width=0.5pt},
    axis line style={black!80, line width=0.9pt},
    tick label style={font=\fontsize{10.5}{12}\selectfont},
    xticklabel style={rotate=90, anchor=east, inner sep=0pt},
    xticklabel shift=5pt,
    yticklabel pos=right,
    yticklabel style={rotate=90, anchor=north, inner sep=0pt},
    yticklabel shift=5.8pt,
    every axis x label/.style={at={(axis description cs:0.5,-0.049)}, anchor=center, rotate=180, font=\fontsize{14.5}{16}\selectfont},
    every axis y label/.style={at={(axis description cs:1.1464,0.5)}, anchor=north, rotate=90, inner sep=0pt, font=\fontsize{14.5}{16}\selectfont},
  }
}

\newcommand{\lgmark}[1]{\makebox[6pt]{\textcolor{#1}{\dejavu\fontsize{4.5}{4.5}\selectfont ◆}}}

\begin{document}
\begin{tikzpicture}
\begin{axis}[panel, at={(59.5pt,44pt)}, anchor=south west,
  xmin=0, xmax=360, xtick={0,90,180,270,360}, xticklabels={0,90,180,270,360},
  minor xtick={45,135,225,315},
  xlabel={dd [°]},
]
\addplot[lightpts] table[x=a,y=t]{\ddlight};
\addplot[lightpts] table[x=b,y=t]{\ddlight};
\addplot[lightpts] table[x=c,y=t]{\ddlight};
\addplot[lightpts] table[x=v,y=t]{\ddlightx};
\addplot[blackpts] table[x=v,y=t]{\ddblack};
\addplot[redpts] table[x=v,y=t]{\ddred};
\node[draw=black, line width=0.6pt, fill=white, rotate=90, anchor=north east, align=left,
  inner xsep=0pt, inner ysep=4pt, font=\fontsize{11.5}{15}\selectfont]
  at (axis description cs:0.045,0.9936)
  {\hspace*{20pt}\lgmark{lav}\hspace*{18.5pt}IMuK, 1 Min\\
   \hspace*{20pt}\lgmark{black}\hspace*{18.5pt}IMuK, 10 Min\hspace*{5.5pt}\mbox{}\\
   \hspace*{20pt}\lgmark{red}\hspace*{18.5pt}LWK, 10 Min};
\end{axis}

\begin{axis}[panel, at={(247.5pt,44pt)}, anchor=south west,
  xmin=0, xmax=10, xtick={0,2,4,6,8,10}, xticklabels={0,2,4,6,8,10},
  xlabel={ff [m/s]}, ylabel={Datum},
  every axis x label/.append style={at={(axis description cs:0.5,-0.0398)}},
]
\addplot[lightpts] table[x=a,y=t]{\fflight};
\addplot[lightpts] table[x=b,y=t]{\fflight};
\addplot[lightpts] table[x=c,y=t]{\fflight};
\addplot[lightpts] table[x=v,y=t]{\fflightx};
\addplot[blackpts] table[x=v,y=t]{\ffblack};
\addplot[redpts] table[x=v,y=t]{\ffred};
\end{axis}

\node[rotate=90, anchor=base, font=\bfseries\fontsize{15.5}{18}\selectfont] at (17.5pt,393pt) {LWK-Messung und IMuK-Messung, 20.-27.3.2014};
\node[rotate=90, anchor=base, font=\bfseries\fontsize{15.5}{18}\selectfont] at (34pt,393pt) {Windrichtung, Windgeschwindigkeit};

\pgfresetboundingbox
\path[use as bounding box] (0pt,0pt) rectangle (408pt,757.5pt);
\end{tikzpicture}
\end{document}
